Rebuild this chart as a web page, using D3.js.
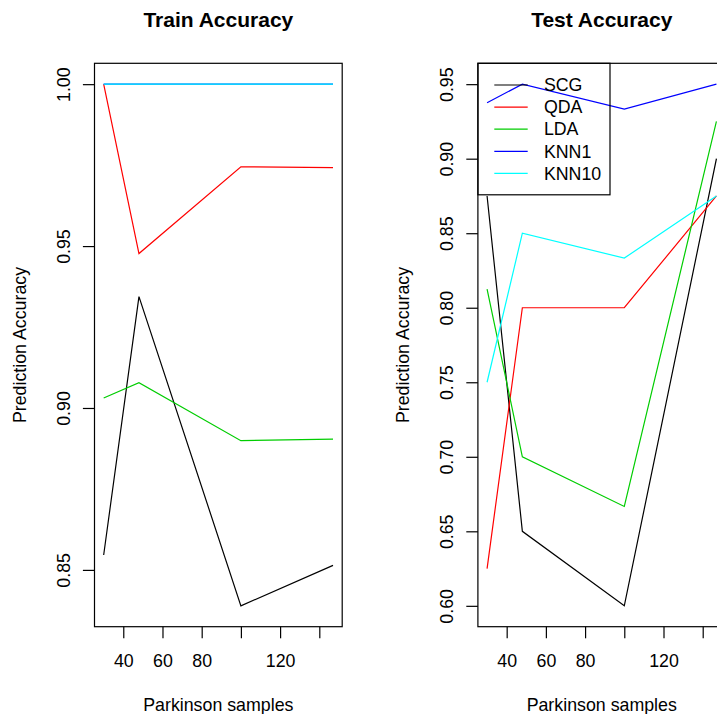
<!DOCTYPE html>
<html>
<head>
<meta charset="utf-8">
<script src="https://cdn.jsdelivr.net/npm/d3@7"></script>
<style>
  html, body { margin: 0; padding: 0; background: #ffffff; }
  svg { display: block; font-family: "Liberation Sans", Arial, Helvetica, sans-serif; }
</style>
</head>
<body>
<svg id="chart" width="717" height="714"></svg>
<script>
// ---------------- data ----------------
const samples = [30, 48, 100, 147];
const methods = ["SCG", "QDA", "LDA", "KNN1", "KNN10"];
const methodColors = ["#000000", "#FF0000", "#00CD00", "#0000FF", "#00FFFF"];

const trainSCG   = [0.8546, 0.9344, 0.8389, 0.8514];
const trainQDA   = [1.0000, 0.9477, 0.9745, 0.9742];
const trainLDA   = [0.9031, 0.9078, 0.8899, 0.8904];
const trainKNN1  = [1.0000, 1.0000, 1.0000, 1.0000];
const trainKNN10 = [1.0000, 1.0000, 1.0000, 1.0000];

const testSCG   = [0.875, 0.650, 0.600, 0.900];
const testQDA   = [0.625, 0.800, 0.800, 0.875];
const testLDA   = [0.8125, 0.700, 0.6667, 0.925];
const testKNN1  = [0.9375, 0.950, 0.9333, 0.950];
const testKNN10 = [0.750, 0.850, 0.8333, 0.875];

const xTicks = [40, 60, 80, 100, 120, 140];
const xTickLabels = ["40", "60", "80", "", "120", ""];
const trainYTicks = [0.85, 0.90, 0.95, 1.00];
const testYTicks = [0.60, 0.65, 0.70, 0.75, 0.80, 0.85, 0.90, 0.95];

const panels = [
  { title: "Train Accuracy", series: [trainSCG, trainQDA, trainLDA, trainKNN1, trainKNN10], yTicks: trainYTicks, legend: false },
  { title: "Test Accuracy",  series: [testSCG, testQDA, testLDA, testKNN1, testKNN10], yTicks: testYTicks, legend: true }
];

// ---------------- layout ----------------
const svg = d3.select("#chart");
const plotTop = 63.3, plotBottom = 626.7, plotW = 247.7;
const plotLefts = [94.5, 477.9];
const baseFont = 17.8, titleFont = 21;

function rExtend(ext) {
  const d = (ext[1] - ext[0]) * 0.04;
  return [ext[0] - d, ext[1] + d];
}

panels.forEach((p, pi) => {
  const L = plotLefts[pi];
  const x = d3.scaleLinear().domain(rExtend(d3.extent(samples))).range([L, L + plotW]);
  const allY = p.series.flat();
  const y = d3.scaleLinear().domain(rExtend(d3.extent(allY))).range([plotBottom, plotTop]);
  const g = svg.append("g");

  // lines
  const line = d3.line().x((d, i) => x(samples[i])).y(d => y(d));
  p.series.forEach((s, si) => {
    g.append("path").datum(s)
      .attr("d", line)
      .attr("fill", "none")
      .attr("stroke", methodColors[si])
      .attr("stroke-width", 1.2);
  });

  // box
  g.append("rect")
    .attr("x", L).attr("y", plotTop)
    .attr("width", plotW).attr("height", plotBottom - plotTop)
    .attr("fill", "none").attr("stroke", "#000").attr("stroke-width", 1.2);

  // x axis
  const xa = g.append("g").attr("transform", `translate(0,${plotBottom})`)
    .call(d3.axisBottom(x).tickValues(xTicks).tickSize(11.6).tickPadding(0)
      .tickFormat((d, i) => xTickLabels[i]));
  xa.select(".domain").remove();
  xa.selectAll("line").attr("stroke", "#000").attr("stroke-width", 1.2);
  xa.selectAll("text")
    .attr("y", 667 - plotBottom).attr("dy", null)
    .attr("font-size", baseFont).attr("font-family", "Liberation Sans, Arial, sans-serif")
    .attr("fill", "#000");

  // y axis
  const ya = g.append("g").attr("transform", `translate(${L},0)`)
    .call(d3.axisLeft(y).tickValues(p.yTicks).tickSize(11.6).tickFormat(d3.format(".2f")));
  ya.select(".domain").remove();
  ya.selectAll("line").attr("stroke", "#000").attr("stroke-width", 1.2);
  ya.selectAll("text")
    .attr("x", null).attr("dy", null)
    .attr("text-anchor", "middle")
    .attr("transform", "translate(-24.5,0) rotate(-90)")
    .attr("font-size", baseFont).attr("font-family", "Liberation Sans, Arial, sans-serif")
    .attr("fill", "#000");

  // title
  const cx = L + plotW / 2;
  g.append("text").attr("x", cx).attr("y", 26.5)
    .attr("text-anchor", "middle").attr("font-weight", "bold")
    .attr("font-size", titleFont).text(p.title);

  // axis titles
  g.append("text").attr("x", cx).attr("y", 711)
    .attr("text-anchor", "middle").attr("font-size", baseFont).text("Parkinson samples");
  g.append("text")
    .attr("transform", `translate(${L - 68.5},${(plotTop + plotBottom) / 2}) rotate(-90)`)
    .attr("text-anchor", "middle").attr("font-size", baseFont).text("Prediction Accuracy");

  // legend (transparent box, as in the reference)
  if (p.legend) {
    const lg = g.append("g");
    lg.append("rect").attr("x", L).attr("y", plotTop)
      .attr("width", 132.1).attr("height", 131.5)
      .attr("fill", "none").attr("stroke", "#000").attr("stroke-width", 1.2);
    methods.forEach((m, i) => {
      const ry = 85 + i * 22.1;
      lg.append("line").attr("x1", L + 16.4).attr("x2", L + 49.8)
        .attr("y1", ry).attr("y2", ry)
        .attr("stroke", methodColors[i]).attr("stroke-width", 1.2);
      lg.append("text").attr("x", L + 66).attr("y", ry).attr("dy", "0.35em")
        .attr("font-size", baseFont).text(m);
    });
  }
});
</script>
</body>
</html>
